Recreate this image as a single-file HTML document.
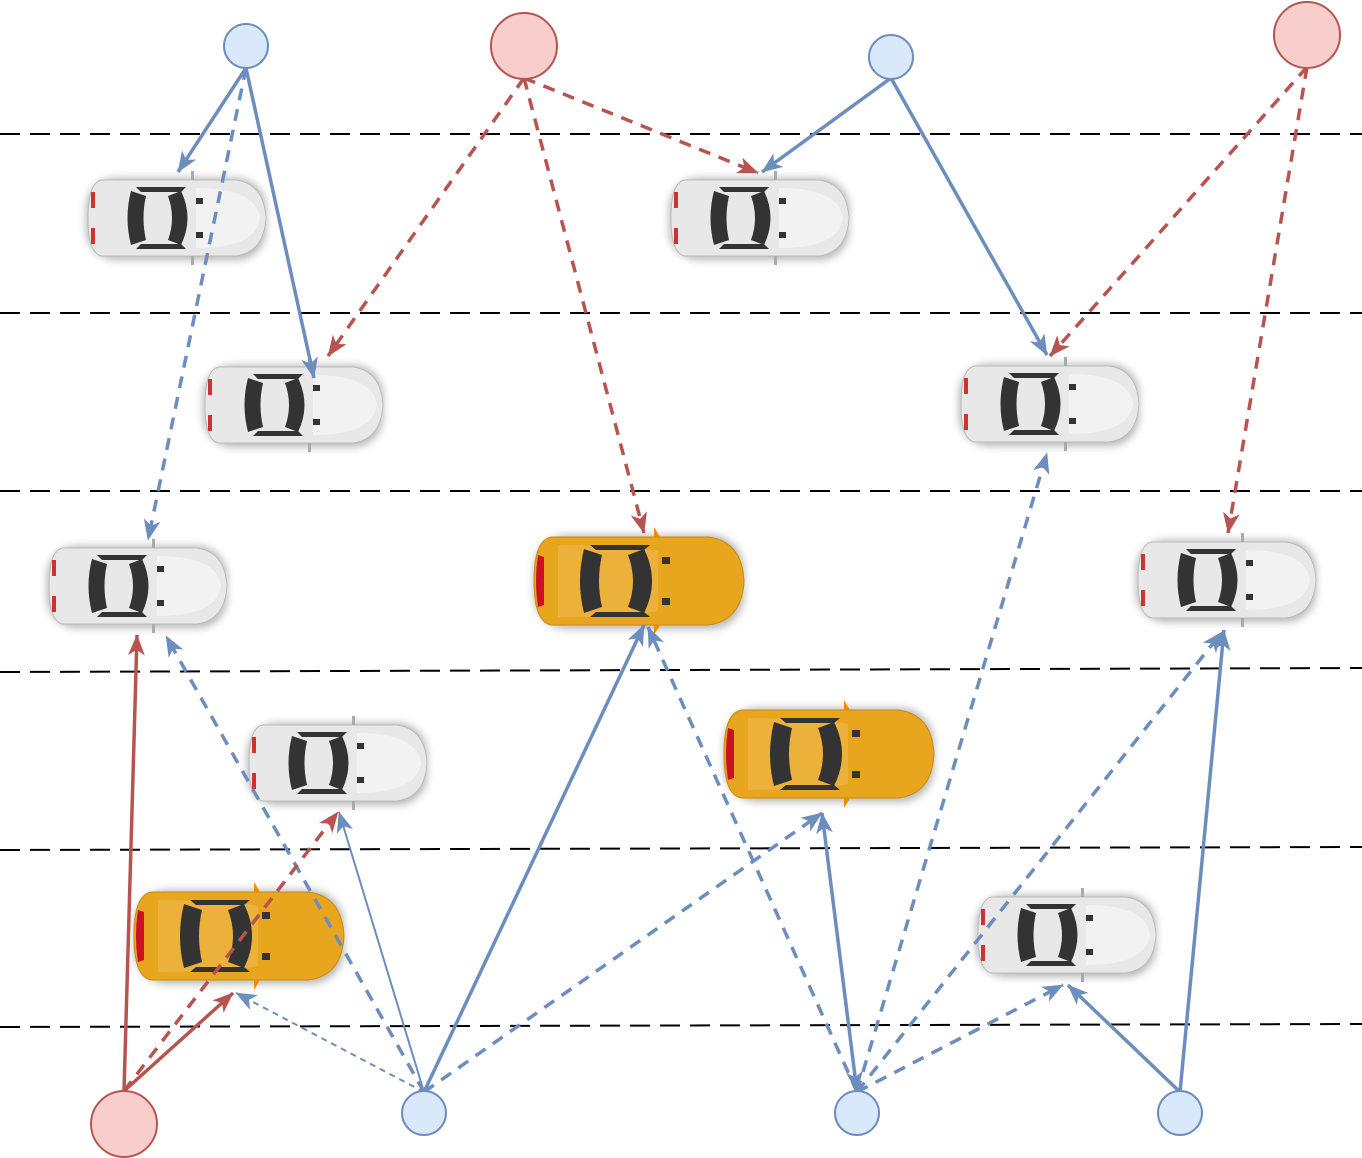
<!DOCTYPE html>
<html><head><meta charset="utf-8"><style>html,body{margin:0;padding:0;background:#fff}svg{display:block}</style></head><body>
<svg width="1362" height="1158" viewBox="0 0 1362 1158" xmlns="http://www.w3.org/2000/svg">
<defs>
<marker id="ab" viewBox="0 0 10 10" refX="9" refY="5" markerWidth="7" markerHeight="7" orient="auto-start-reverse" markerUnits="userSpaceOnUse" style="overflow:visible">
<path d="M-20,-7 L10,5 L-20,17 L-12,5 z" fill="#6c8ebf"/></marker>
<marker id="ar" viewBox="0 0 10 10" refX="9" refY="5" markerWidth="7" markerHeight="7" orient="auto-start-reverse" markerUnits="userSpaceOnUse" style="overflow:visible">
<path d="M-20,-7 L10,5 L-20,17 L-12,5 z" fill="#b85450"/></marker>
<filter id="sh" x="-20%" y="-30%" width="140%" height="160%"><feGaussianBlur stdDeviation="4"/></filter>
<g id="carW">
<rect x="-90" y="-40" width="180" height="82" rx="30" fill="#888" opacity="0.6" filter="url(#sh)"/>
<path d="M-74,-38 Q-88,-36 -88,0 Q-88,36 -74,38 L60,38 Q88,34 90,0 Q88,-34 60,-38 Z" fill="#e8e8e8" stroke="#bbb" stroke-width="1"/>
<path d="M20,-30 Q80,-30 84,0 Q80,30 20,30 Z" fill="#f2f2f2"/>
<rect x="-85" y="-26" width="4" height="16" fill="#c33"/><rect x="-85" y="10" width="4" height="16" fill="#c33"/>
<path d="M-45,-27 Q-52,0 -45,27 L-30,22 Q-35,0 -30,-22 Z" fill="#333"/>
<path d="M5,-27 Q18,0 5,27 L-8,22 Q0,0 -8,-22 Z" fill="#333"/>
<path d="M-40,-31 L10,-31 L5,-26 L-35,-26 Z" fill="#333"/><path d="M-40,31 L10,31 L5,26 L-35,26 Z" fill="#333"/>
<rect x="20" y="-20" width="7" height="6" fill="#333"/><rect x="20" y="14" width="7" height="6" fill="#333"/>
<rect x="15" y="-47" width="3" height="9" fill="#aaa"/><rect x="15" y="38" width="3" height="9" fill="#aaa"/>
</g>
<g id="carY">
<rect x="-104" y="-46" width="210" height="94" rx="34" fill="#888" opacity="0.6" filter="url(#sh)"/>
<path d="M-86,-44 Q-104,-42 -104,0 Q-104,42 -86,44 L70,44 Q104,40 106,0 Q104,-40 70,-44 Z" fill="#e8a51e" stroke="#c98a10" stroke-width="1"/>
<path d="M-80,-36 Q-10,-36 20,-30 L20,30 Q-10,36 -80,36 Z" fill="#ecb13a"/>
<path d="M-100,-26 Q-104,0 -100,26 L-94,24 L-94,-24 Z" fill="#c12"/>
<path d="M-54,-32 Q-62,0 -54,32 L-36,26 Q-42,0 -36,-26 Z" fill="#333"/>
<path d="M6,-32 Q22,0 6,32 L-10,26 Q0,0 -10,-26 Z" fill="#333"/>
<path d="M-48,-36 L12,-36 L6,-31 L-42,-31 Z" fill="#333"/><path d="M-48,36 L12,36 L6,31 L-42,31 Z" fill="#333"/>
<rect x="24" y="-24" width="8" height="7" fill="#333"/><rect x="24" y="17" width="8" height="7" fill="#333"/>
<path d="M16,-54 L22,-44 L16,-44 Z" fill="#f08a00"/><path d="M16,54 L22,44 L16,44 Z" fill="#f08a00"/>
</g>
</defs>
<g stroke="#000" stroke-width="2" stroke-dasharray="20 10">
<line x1="0" y1="134" x2="1362" y2="134"/>
<line x1="0" y1="313" x2="1362" y2="313"/>
<line x1="0" y1="491" x2="1362" y2="491"/>
<line x1="0" y1="672" x2="1362" y2="668"/>
<line x1="0" y1="850" x2="1362" y2="847"/>
<line x1="0" y1="1027" x2="1362" y2="1024"/>
</g>
<use href="#carW" x="176" y="218"/>
<use href="#carW" x="293" y="405"/>
<use href="#carW" x="759" y="218"/>
<use href="#carW" x="1049" y="404"/>
<use href="#carW" x="137" y="586"/>
<use href="#carY" x="638" y="581"/>
<use href="#carW" x="1226" y="580"/>
<use href="#carW" x="337" y="763"/>
<use href="#carY" x="828" y="754"/>
<use href="#carY" x="238" y="936"/>
<use href="#carW" x="1066" y="935"/>
<g fill="none" stroke-width="3.5">
<g stroke="#6c8ebf">
<line x1="246" y1="68" x2="178" y2="172" marker-end="url(#ab)"/>
<line x1="246" y1="68" x2="314" y2="378" marker-end="url(#ab)"/>
<line x1="246" y1="68" x2="148" y2="540" stroke-dasharray="12 9" marker-end="url(#ab)"/>
<line x1="891" y1="78" x2="762" y2="172" marker-end="url(#ab)"/>
<line x1="891" y1="78" x2="1047" y2="355" marker-end="url(#ab)"/>
<line x1="424" y1="1092" x2="166" y2="636" stroke-dasharray="12 9" marker-end="url(#ab)"/>
<line x1="424" y1="1092" x2="339" y2="812" stroke-width="2" marker-end="url(#ab)"/>
<line x1="424" y1="1092" x2="236" y2="993" stroke-width="2" stroke-dasharray="6 5" marker-end="url(#ab)"/>
<line x1="424" y1="1092" x2="644" y2="625" marker-end="url(#ab)"/>
<line x1="424" y1="1092" x2="822" y2="813" stroke-dasharray="12 9" marker-end="url(#ab)"/>
<line x1="857" y1="1092" x2="648" y2="627" stroke-dasharray="12 9" marker-end="url(#ab)"/>
<line x1="857" y1="1092" x2="822" y2="813" marker-end="url(#ab)" marker-start="url(#ab)"/>
<line x1="857" y1="1092" x2="1047" y2="453" stroke-dasharray="12 9" marker-end="url(#ab)"/>
<line x1="857" y1="1092" x2="1222" y2="632" stroke-dasharray="12 9" marker-end="url(#ab)"/>
<line x1="857" y1="1092" x2="1063" y2="985" stroke-dasharray="12 9" marker-end="url(#ab)"/>
<line x1="1180" y1="1092" x2="1068" y2="985" marker-end="url(#ab)"/>
<line x1="1180" y1="1092" x2="1224" y2="630" marker-end="url(#ab)"/>
</g>
<g stroke="#b85450">
<line x1="524" y1="78" x2="328" y2="356" stroke-dasharray="12 9" marker-end="url(#ar)"/>
<line x1="524" y1="78" x2="758" y2="173" stroke-dasharray="12 9" marker-end="url(#ar)"/>
<line x1="524" y1="78" x2="644" y2="533" stroke-dasharray="12 9" marker-end="url(#ar)"/>
<line x1="1307" y1="67" x2="1050" y2="356" stroke-dasharray="12 9" marker-end="url(#ar)"/>
<line x1="1307" y1="67" x2="1228" y2="533" stroke-dasharray="12 9" marker-end="url(#ar)"/>
<line x1="124" y1="1091" x2="137" y2="635" marker-end="url(#ar)"/>
<line x1="124" y1="1091" x2="233" y2="993" marker-end="url(#ar)"/>
<line x1="124" y1="1091" x2="338" y2="812" stroke-dasharray="12 9" marker-end="url(#ar)"/>
</g>
</g>
<g stroke-width="2">
<circle cx="246" cy="46" r="22" fill="#dae8fc" stroke="#6c8ebf"/>
<circle cx="891" cy="57" r="22" fill="#dae8fc" stroke="#6c8ebf"/>
<circle cx="424" cy="1113" r="22" fill="#dae8fc" stroke="#6c8ebf"/>
<circle cx="857" cy="1113" r="22" fill="#dae8fc" stroke="#6c8ebf"/>
<circle cx="1180" cy="1113" r="22" fill="#dae8fc" stroke="#6c8ebf"/>
<circle cx="524" cy="46" r="33" fill="#f8cecc" stroke="#b85450"/>
<circle cx="1307" cy="35" r="33" fill="#f8cecc" stroke="#b85450"/>
<circle cx="124" cy="1124" r="33" fill="#f8cecc" stroke="#b85450"/>
</g>
</svg>
</body></html>
